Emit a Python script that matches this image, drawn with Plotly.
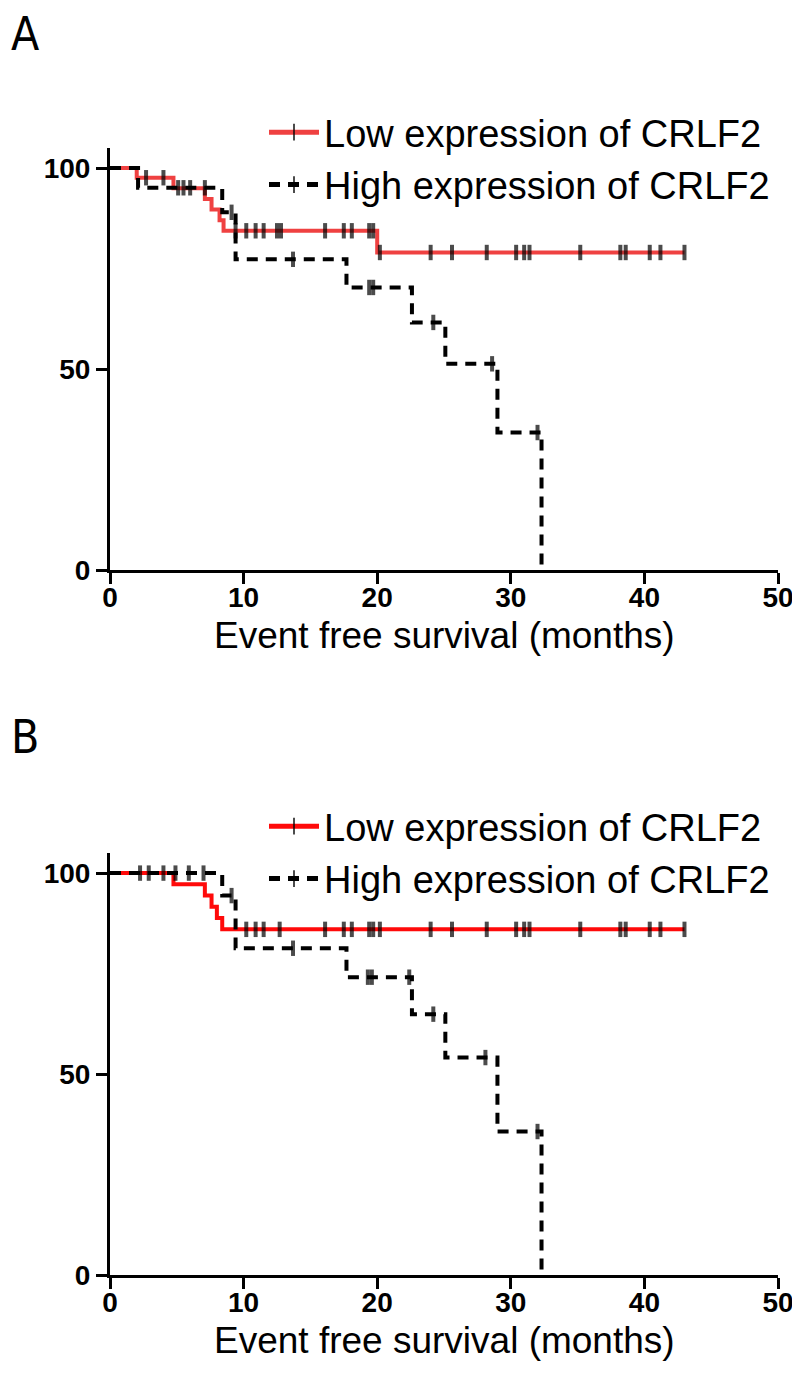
import plotly.graph_objects as go

# ---------------- data ----------------
# Panel A
A_low_times = [0, 2.0, 4.75, 7.1, 7.6, 8.2, 8.5, 20.0, 43.0]
A_low_surv = [100, 97.6, 95.0, 92.3, 89.7, 87.0, 84.4, 79.0, 79.0]
A_low_censor = [2.7, 4.0, 9.4, 10.2, 10.9, 11.5, 12.5, 12.8, 16.1, 17.5, 18.1,
                19.4, 19.7, 20.2, 24.0, 25.6, 28.2, 30.4, 31.0, 31.4, 35.2,
                38.2, 38.6, 40.4, 41.2, 43.0]
A_high_times = [0, 2.1, 8.4, 9.4, 17.7, 22.6, 25.1, 29.0, 32.3]
A_high_surv = [100, 95.1, 89.0, 77.3, 70.3, 61.6, 51.3, 34.2, 0]
A_high_censor = [5.1, 5.5, 6.0, 7.1, 9.1, 13.7, 19.4, 19.7, 24.2, 28.6, 32.0]

# Panel B
B_low_times = [0, 4.75, 7.1, 7.6, 8.0, 8.4, 43.0]
B_low_surv = [100, 97.2, 94.4, 91.6, 88.8, 86.0, 86.0]
B_low_censor = [2.25, 2.9, 4.0, 10.2, 10.9, 11.5, 12.7, 16.1, 17.5, 18.1,
                19.4, 19.7, 20.2, 24.0, 25.6, 28.2, 30.4, 31.0, 31.4, 35.2,
                38.2, 38.6, 40.4, 41.2, 43.0]
B_high_times = [0, 8.4, 9.4, 17.7, 22.6, 25.1, 29.0, 32.3]
B_high_surv = [100, 94.4, 81.3, 74.1, 64.9, 54.1, 35.7, 0]
B_high_censor = [4.9, 5.9, 7.0, 9.1, 13.7, 19.3, 19.6, 22.4, 24.2, 28.1, 32.0]

x_ticks = [0, 10, 20, 30, 40, 50]
y_ticks = [0, 50, 100]
legend_names = ["Low expression of CRLF2", "High expression of CRLF2"]
x_title = "Event free survival (months)"
panel_labels = ["A", "B"]

# ---------------- helpers ----------------
def level(times, surv, t):
    val = surv[0]
    for ti, si in zip(times, surv):
        if ti <= t:
            val = si
    return val


def km_trace(times, surv, censor, name, color, dash, xa, ya, legend):
    pts = [(t, s, 0) for t, s in zip(times, surv)]
    pts += [(c, level(times, surv, c), 11) for c in censor]
    pts.sort(key=lambda p: (p[0], -p[2]))
    return go.Scatter(
        x=[p[0] for p in pts], y=[p[1] for p in pts],
        mode="lines+markers", name=name, line_shape="hv",
        line=dict(color=color, width=4, dash=dash),
        marker=dict(symbol="line-ns", size=[p[2] for p in pts],
                    color="black", line=dict(color="black", width=4)),
        xaxis=xa, yaxis=ya, legend=legend, hoverinfo="skip",
    )


fig = go.Figure()
fig.add_trace(km_trace(A_low_times, A_low_surv, A_low_censor, legend_names[0],
                       "#EF4141", "solid", "x", "y", "legend"))
fig.add_trace(km_trace(A_high_times, A_high_surv, A_high_censor, legend_names[1],
                       "black", "11px,8px", "x", "y", "legend"))
fig.add_trace(km_trace(B_low_times, B_low_surv, B_low_censor, legend_names[0],
                       "#FF0A0A", "solid", "x2", "y2", "legend2"))
fig.add_trace(km_trace(B_high_times, B_high_surv, B_high_censor, legend_names[1],
                       "black", "11px,8px", "x2", "y2", "legend2"))

# page has an 8px body margin -> figure pixel = page pixel - 8
W, H = 792, 1371.0
L, R = 102, 22
PW = W - L - R

tick_font = dict(family="Liberation Sans, Arial, sans-serif",
                 size=28, color="black", weight="bold")
title_font = dict(family="Liberation Sans, Arial, sans-serif", size=37, color="black")

def xaxis_cfg(anchor):
    return dict(range=[0, 50], tickvals=x_ticks, ticks="outside", ticklen=11,
                tickwidth=3, tickcolor="black", showline=True, linewidth=3,
                linecolor="black", showgrid=False, zeroline=False,
                tickfont=tick_font, anchor=anchor, automargin=False,
                ticklabelstandoff=-11)

def yaxis_cfg(anchor, dom):
    return dict(range=[0, 105], tickvals=y_ticks, ticks="outside", ticklen=11,
                tickwidth=3, tickcolor="black", showline=True, linewidth=3,
                linecolor="black", showgrid=False, zeroline=False,
                tickfont=tick_font, anchor=anchor, domain=dom, automargin=False)

legend_font = dict(family="Liberation Sans, Arial, sans-serif", size=38, color="black")

fig.update_layout(
    width=W, height=int(H),
    margin=dict(l=L, r=R, t=0, b=0),
    paper_bgcolor="white", plot_bgcolor="white",
    xaxis=xaxis_cfg("y"),
    yaxis=yaxis_cfg("x", [(H - 562) / H, (H - 140) / H]),
    xaxis2=xaxis_cfg("y2"),
    yaxis2=yaxis_cfg("x2", [(H - 1267) / H, (H - 845) / H]),
    legend=dict(x=(256 - L) / PW, y=1 - 93 / H, xanchor="left", yanchor="top",
                font=legend_font, bgcolor="rgba(0,0,0,0)", itemsizing="constant",
                itemwidth=50, tracegroupgap=0),
    legend2=dict(x=(256 - L) / PW, y=1 - 787 / H, xanchor="left", yanchor="top",
                 font=legend_font, bgcolor="rgba(0,0,0,0)", itemsizing="constant",
                 itemwidth=50, tracegroupgap=0),
    showlegend=True,
)

# x-axis titles (annotations, just under the tick labels)
for yc in (627, 1332):
    fig.add_annotation(text=x_title, xref="paper", yref="paper",
                       x=0.5, y=1 - yc / H,
                       xanchor="center", yanchor="middle", showarrow=False,
                       font=title_font)

label_font = dict(family="DejaVu Sans Condensed, Liberation Sans, sans-serif",
                  size=46, color="black")
fig.add_annotation(text=panel_labels[0], xref="paper", yref="paper",
                   x=(1 - L) / PW, y=1 + 3 / H, xanchor="left", yanchor="top",
                   showarrow=False, font=label_font)
fig.add_annotation(text=panel_labels[1], xref="paper", yref="paper",
                   x=(1 - L) / PW, y=1 - 700 / H, xanchor="left", yanchor="top",
                   showarrow=False, font=label_font)

fig.write_html("out.html")
